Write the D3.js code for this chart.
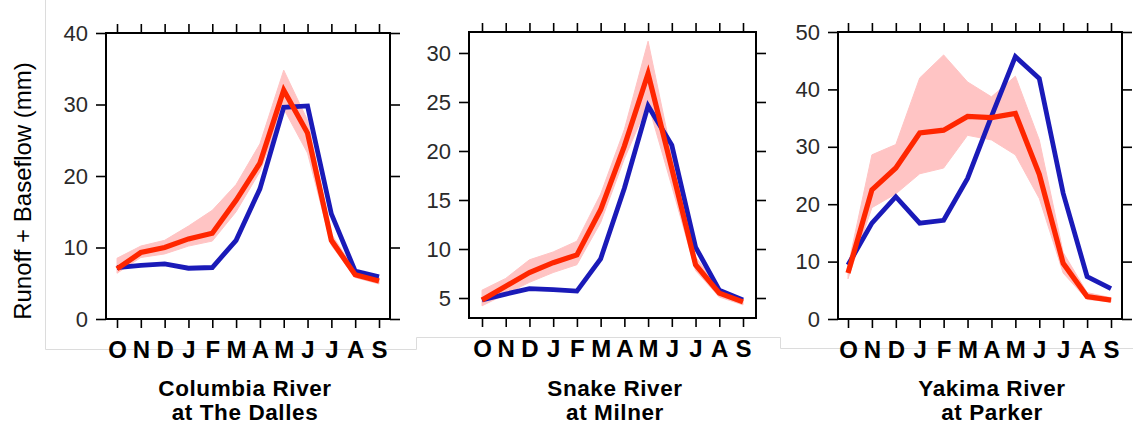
<!DOCTYPE html>
<html>
<head>
<meta charset="utf-8">
<script src="https://cdn.jsdelivr.net/npm/d3@7"></script>
<style>
  html, body { margin: 0; padding: 0; background: #fff; }
  svg { display: block; }
  text { font-family: "Liberation Sans", Arial, Helvetica, sans-serif; }
</style>
</head>
<body>
<svg id="chart" width="1133" height="430"></svg>
<script>
// ---------- data ----------
const months = ["O", "N", "D", "J", "F", "M", "A", "M", "J", "J", "A", "S"];

const columbiaTitle = ["Columbia River", "at The Dalles"];
const columbiaBlue  = [7.2, 7.5, 7.7, 7.1, 7.2, 11.0, 18.2, 29.6, 29.8, 14.7, 6.7, 5.9];
const columbiaRed   = [7.0, 9.3, 10.0, 11.2, 12.0, 16.6, 21.8, 32.0, 26.0, 11.0, 6.2, 5.3];
const columbiaLow   = [6.4, 8.6, 9.1, 10.2, 10.9, 15.0, 20.6, 29.4, 23.2, 10.3, 5.8, 4.9];
const columbiaHigh  = [8.5, 10.2, 11.0, 13.0, 15.2, 18.8, 24.5, 34.8, 27.8, 11.9, 6.8, 5.8];
const columbiaTicks = [0, 10, 20, 30, 40];

const snakeTitle = ["Snake River", "at Milner"];
const snakeBlue  = [4.8, 5.4, 5.95, 5.85, 5.7, 9.0, 16.2, 24.6, 20.6, 10.2, 5.8, 4.8];
const snakeRed   = [4.8, 6.2, 7.6, 8.6, 9.4, 14.0, 20.5, 27.9, 18.2, 8.4, 5.5, 4.6];
const snakeLow   = [4.2, 5.4, 6.6, 7.6, 8.4, 12.7, 19.2, 24.8, 16.4, 7.8, 5.1, 4.3];
const snakeHigh  = [5.8, 7.0, 8.9, 9.7, 10.8, 15.6, 22.2, 31.2, 19.6, 9.2, 5.9, 4.9];
const snakeTicks = [5, 10, 15, 20, 25, 30];

const yakimaTitle = ["Yakima River", "at Parker"];
const yakimaBlue  = [9.4, 16.7, 21.3, 16.7, 17.2, 24.5, 35.3, 45.7, 41.9, 21.9, 7.4, 5.3];
const yakimaRed   = [8.0, 22.5, 26.3, 32.4, 32.9, 35.3, 35.1, 35.8, 25.2, 9.7, 3.9, 3.3];
const yakimaLow   = [7.0, 19.4, 21.8, 25.3, 26.3, 32.0, 31.2, 28.6, 21.0, 8.0, 3.4, 3.0];
const yakimaHigh  = [9.2, 28.6, 30.4, 42.0, 46.0, 41.3, 38.7, 42.3, 31.2, 11.6, 4.6, 3.7];
const yakimaTicks = [0, 10, 20, 30, 40, 50];

const yTitle = "Runoff + Baseflow (mm)";

// ---------- layout ----------
const panels = [
  { title: columbiaTitle, blue: columbiaBlue, red: columbiaRed, low: columbiaLow, high: columbiaHigh, ticks: columbiaTicks,
    box: [106, 390, 33, 319], pts: [117, 379], dom: [0, 40], titleX: 245 },
  { title: snakeTitle, blue: snakeBlue, red: snakeRed, low: snakeLow, high: snakeHigh, ticks: snakeTicks,
    box: [469, 756, 32, 318], pts: [482, 743], dom: [2.96, 32.14], titleX: 615 },
  { title: yakimaTitle, blue: yakimaBlue, red: yakimaRed, low: yakimaLow, high: yakimaHigh, ticks: yakimaTicks,
    box: [838, 1122, 32, 319], pts: [848, 1111], dom: [0, 50], titleX: 992 }
];

const svg = d3.select("#chart");

// faint background frame lines (from the composite source image)
const frame = svg.append("g").attr("stroke", "#dcdcdc").attr("stroke-width", 1).attr("fill", "none");
frame.append("path").attr("d", "M45.5,0 V349.5 H416.5 V337.5 H780.5 V348.5 H1133");

const RED = "#ff2600", BLUE = "#1a1ab8", BAND = "#ffc4c4";

panels.forEach(p => {
  const [x0, x1, y0, y1] = p.box;
  const x = d3.scalePoint().domain(d3.range(12)).range(p.pts);
  const y = d3.scaleLinear().domain(p.dom).range([y1, y0]);
  const g = svg.append("g");

  // band
  const area = d3.area().x((d, i) => x(i)).y0((d, i) => y(p.low[i])).y1((d, i) => y(p.high[i]));
  g.append("path").datum(p.low).attr("d", area).attr("fill", BAND).attr("stroke", BAND).attr("stroke-width", 1);

  const line = d3.line().x((d, i) => x(i)).y(d => y(d));
  g.append("path").datum(p.blue).attr("d", line).attr("fill", "none")
    .attr("stroke", BLUE).attr("stroke-width", 4.8).attr("stroke-linejoin", "miter");
  g.append("path").datum(p.red).attr("d", line).attr("fill", "none")
    .attr("stroke", RED).attr("stroke-width", 5.2).attr("stroke-linejoin", "miter");

  // axes
  const styleAxis = sel => {
    sel.select(".domain").remove();
    sel.selectAll(".tick line").attr("stroke", "#000").attr("stroke-width", 1.6);
  };
  g.append("g").attr("transform", `translate(${x0},0)`)
    .call(d3.axisLeft(y).tickValues(p.ticks).tickSize(10).tickPadding(8))
    .call(styleAxis)
    .call(s => s.selectAll("text").attr("fill", "#2a2a2a").style("font-size", "22px")
      .style("font-family", "'Liberation Sans', Arial, sans-serif"));
  g.append("g").attr("transform", `translate(${x1},0)`)
    .call(d3.axisRight(y).tickValues(p.ticks).tickSize(10).tickFormat(""))
    .call(styleAxis);
  g.append("g").attr("transform", `translate(0,${y0})`)
    .call(d3.axisTop(x).tickSize(9).tickFormat(""))
    .call(styleAxis);
  g.append("g").attr("transform", `translate(0,${y1})`)
    .call(d3.axisBottom(x).tickSize(9).tickFormat(i => months[i]))
    .call(styleAxis)
    .call(s => s.selectAll("text").attr("y", 30).attr("dy", "0.36em").attr("fill", "#000")
      .style("font-size", "24px").style("font-weight", "bold")
      .style("font-family", "'Liberation Sans', Arial, sans-serif"));

  // box
  g.append("rect").attr("x", x0).attr("y", y0).attr("width", x1 - x0).attr("height", y1 - y0)
    .attr("fill", "none").attr("stroke", "#000").attr("stroke-width", 2);

  // title
  const t = g.append("text").attr("text-anchor", "middle").attr("fill", "#000")
    .style("font-size", "22.5px").style("font-weight", "bold").style("letter-spacing", "0.6px");
  p.title.forEach((s, i) => t.append("tspan").attr("x", p.titleX).attr("y", 396 + i * 24).text(s));
});

// y-axis title
svg.append("text").attr("transform", "translate(31,191) rotate(-90)")
  .attr("text-anchor", "middle").attr("fill", "#000").style("font-size", "24px").text(yTitle);
</script>
</body>
</html>
